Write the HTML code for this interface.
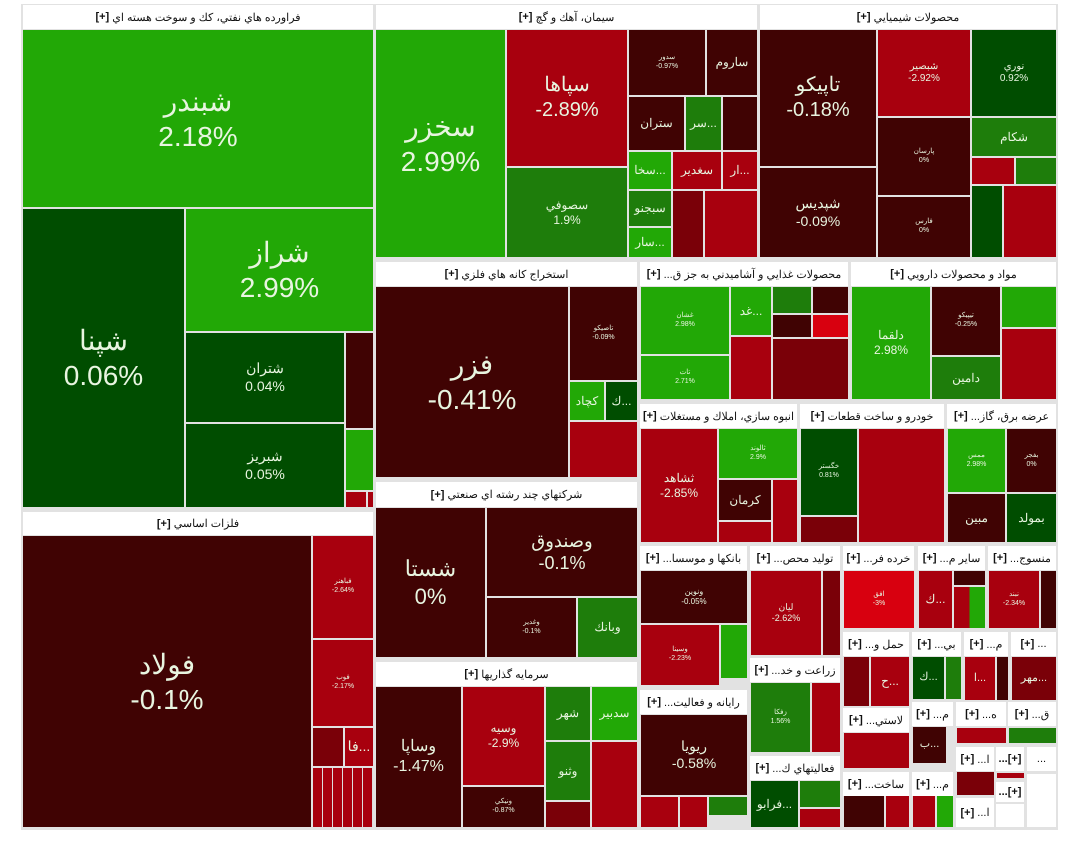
<!DOCTYPE html>
<html><head><meta charset="utf-8">
<style>
body{margin:0;width:1080px;height:859px;background:#fff;position:relative;overflow:hidden;font-family:"Liberation Sans","Noto Sans CJK SC",sans-serif}
.c{position:absolute;box-sizing:border-box;display:flex;flex-direction:column;align-items:center;justify-content:center;color:#e8f5e0;text-align:center;line-height:1.25;overflow:hidden}
.h{position:absolute;background:#fff;color:#111;font-size:11px;display:flex;align-items:center;justify-content:center;direction:rtl;white-space:nowrap;overflow:hidden}
.h b{font-weight:bold}
.g{background:#22a806}.G{background:#1e7d0b}.d{background:#004d00}.m{background:#400303}.r{background:#a8000e}.R{background:#d8000f}.s{background:#7a0008}
.bg{position:absolute;background:#e2e2e2}
.L{font-size:28px}.M{font-size:14px}.S{font-size:7px}
</style></head><body>
<div class="bg" style="left:21px;top:4px;width:1037px;height:826px"></div>

<!-- Sector 1 -->
<div class="h" style="left:23px;top:5px;width:350px;height:24px">فراورده هاي نفتي، كك و سوخت هسته اي <b>&nbsp;[+]</b></div>
<div class="c g L" style="left:23px;top:30px;width:350px;height:177px">شبندر<br>2.18%</div>
<div class="c d L" style="left:23px;top:209px;width:161px;height:298px">شپنا<br>0.06%</div>
<div class="c g L" style="left:186px;top:209px;width:187px;height:122px">شراز<br>2.99%</div>
<div class="c d M" style="left:186px;top:333px;width:158px;height:89px">شتران<br>0.04%</div>
<div class="c d M" style="left:186px;top:424px;width:158px;height:83px">شبریز<br>0.05%</div>
<div class="c m" style="left:346px;top:333px;width:27px;height:95px"></div>
<div class="c g" style="left:346px;top:430px;width:27px;height:60px"></div>
<div class="c r" style="left:346px;top:492px;width:20px;height:15px"></div>
<div class="c r" style="left:368px;top:492px;width:5px;height:15px"></div>

<!-- فلزات -->
<div class="h" style="left:23px;top:512px;width:350px;height:23px">فلزات اساسي <b>&nbsp;[+]</b></div>
<div class="c m L" style="left:23px;top:536px;width:288px;height:291px">فولاد<br>-0.1%</div>
<div class="c r S" style="left:313px;top:536px;width:60px;height:102px">فباهنر<br>-2.64%</div>
<div class="c r S" style="left:313px;top:640px;width:60px;height:86px">فوب<br>-2.17%</div>
<div class="c s" style="left:313px;top:728px;width:30px;height:38px"></div>
<div class="c r M" style="left:345px;top:728px;width:28px;height:38px">فا...</div>
<div class="c r" style="left:313px;top:768px;width:60px;height:59px;background:repeating-linear-gradient(90deg,#a8000e 0 9px,#ddd 9px 10px),#a8000e"></div>

<!-- سیمان -->
<div class="h" style="left:376px;top:5px;width:381px;height:24px">سيمان، آهك و گچ <b>&nbsp;[+]</b></div>
<div class="c g L" style="left:376px;top:30px;width:129px;height:227px">سخزر<br>2.99%</div>
<div class="c r" style="left:507px;top:30px;width:120px;height:136px;font-size:20px">سپاها<br>-2.89%</div>
<div class="c G" style="left:507px;top:168px;width:120px;height:89px;font-size:12px">سصوفي<br>1.9%</div>
<div class="c m S" style="left:629px;top:30px;width:76px;height:65px">سدور<br>-0.97%</div>
<div class="c m" style="left:707px;top:30px;width:50px;height:65px;font-size:12px">ساروم</div>
<div class="c m" style="left:629px;top:97px;width:55px;height:53px;font-size:12px">ستران</div>
<div class="c G" style="left:686px;top:97px;width:35px;height:53px;font-size:12px">سر...</div>
<div class="c m" style="left:723px;top:97px;width:34px;height:53px"></div>
<div class="c g" style="left:629px;top:152px;width:42px;height:37px;font-size:12px">سخا...</div>
<div class="c r" style="left:673px;top:152px;width:48px;height:37px;font-size:12px">سغدير</div>
<div class="c r" style="left:723px;top:152px;width:34px;height:37px;font-size:12px">ار...</div>
<div class="c G" style="left:629px;top:191px;width:42px;height:35px;font-size:12px">سبجنو</div>
<div class="c g" style="left:629px;top:228px;width:42px;height:29px;font-size:12px">سار...</div>
<div class="c s" style="left:673px;top:191px;width:30px;height:66px"></div>
<div class="c r" style="left:705px;top:191px;width:52px;height:66px"></div>

<!-- شیمیایی -->
<div class="h" style="left:760px;top:5px;width:296px;height:24px">محصولات شيميايي <b>&nbsp;[+]</b></div>
<div class="c m" style="left:760px;top:30px;width:116px;height:136px;font-size:20px">تاپيكو<br>-0.18%</div>
<div class="c r" style="left:878px;top:30px;width:92px;height:86px;font-size:10px">شبصير<br>-2.92%</div>
<div class="c d" style="left:972px;top:30px;width:84px;height:86px;font-size:10px">نوري<br>0.92%</div>
<div class="c m M" style="left:760px;top:168px;width:116px;height:89px">شپديس<br>-0.09%</div>
<div class="c m S" style="left:878px;top:118px;width:92px;height:77px">پارسان<br>0%</div>
<div class="c m S" style="left:878px;top:197px;width:92px;height:60px">فارس<br>0%</div>
<div class="c G" style="left:972px;top:118px;width:84px;height:38px;font-size:12px">شكام</div>
<div class="c r" style="left:972px;top:158px;width:42px;height:26px"></div>
<div class="c G" style="left:1016px;top:158px;width:40px;height:26px"></div>
<div class="c d" style="left:972px;top:186px;width:30px;height:71px"></div>
<div class="c r" style="left:1004px;top:186px;width:52px;height:71px"></div>

<!-- استخراج -->
<div class="h" style="left:376px;top:262px;width:261px;height:24px">استخراج كانه هاي فلزي <b>&nbsp;[+]</b></div>
<div class="c m L" style="left:376px;top:287px;width:192px;height:190px">فزر<br>-0.41%</div>
<div class="c m S" style="left:570px;top:287px;width:67px;height:93px">تاصيكو<br>-0.09%</div>
<div class="c g" style="left:570px;top:382px;width:34px;height:38px;font-size:12px">كچاد</div>
<div class="c d" style="left:606px;top:382px;width:31px;height:38px;font-size:12px">ك...</div>
<div class="c r" style="left:570px;top:422px;width:67px;height:55px"></div>

<!-- چند رشته -->
<div class="h" style="left:376px;top:482px;width:261px;height:25px">شركتهاي چند رشته اي صنعتي <b>&nbsp;[+]</b></div>
<div class="c m L" style="left:376px;top:508px;width:109px;height:149px;font-size:22px">شستا<br>0%</div>
<div class="c m" style="left:487px;top:508px;width:150px;height:88px;font-size:18px">وصندوق<br>-0.1%</div>
<div class="c m S" style="left:487px;top:598px;width:89px;height:59px">وغدير<br>-0.1%</div>
<div class="c G" style="left:578px;top:598px;width:59px;height:59px;font-size:12px">وبانك</div>

<!-- سرمایه گذاری -->
<div class="h" style="left:376px;top:662px;width:261px;height:24px">سرمايه گذاريها <b>&nbsp;[+]</b></div>
<div class="c m" style="left:376px;top:687px;width:85px;height:140px;font-size:16px">وساپا<br>-1.47%</div>
<div class="c r" style="left:463px;top:687px;width:81px;height:98px;font-size:12px">وسيه<br>-2.9%</div>
<div class="c m S" style="left:463px;top:787px;width:81px;height:40px">ونيكي<br>-0.87%</div>
<div class="c G" style="left:546px;top:687px;width:44px;height:53px;font-size:12px">شهر</div>
<div class="c g" style="left:592px;top:687px;width:45px;height:53px;font-size:12px">سدبير</div>
<div class="c G" style="left:546px;top:742px;width:44px;height:58px;font-size:12px">وثنو</div>
<div class="c r" style="left:592px;top:742px;width:45px;height:85px"></div>
<div class="c s" style="left:546px;top:802px;width:44px;height:25px"></div>

<!-- غذایی -->
<div class="h" style="left:640px;top:262px;width:208px;height:24px">محصولات غذايي و آشاميدني به جز ق... <b>&nbsp;[+]</b></div>
<div class="c g S" style="left:641px;top:287px;width:88px;height:67px">غشان<br>2.98%</div>
<div class="c g S" style="left:641px;top:356px;width:88px;height:43px">تات<br>2.71%</div>
<div class="c g" style="left:731px;top:287px;width:40px;height:48px;font-size:12px">غد...</div>
<div class="c G" style="left:773px;top:287px;width:38px;height:26px"></div>
<div class="c m" style="left:813px;top:287px;width:35px;height:26px"></div>
<div class="c m" style="left:773px;top:315px;width:38px;height:22px"></div>
<div class="c R" style="left:813px;top:315px;width:35px;height:22px"></div>
<div class="c r" style="left:731px;top:337px;width:40px;height:62px"></div>
<div class="c s" style="left:773px;top:339px;width:75px;height:60px"></div>

<!-- دارویی -->
<div class="h" style="left:851px;top:262px;width:205px;height:24px">مواد و محصولات دارويي <b>&nbsp;[+]</b></div>
<div class="c g" style="left:852px;top:287px;width:78px;height:112px;font-size:12px">دلقما<br>2.98%</div>
<div class="c m S" style="left:932px;top:287px;width:68px;height:68px">تيپيكو<br>-0.25%</div>
<div class="c G" style="left:932px;top:357px;width:68px;height:42px;font-size:12px">دامين</div>
<div class="c g" style="left:1002px;top:287px;width:54px;height:40px"></div>
<div class="c r" style="left:1002px;top:329px;width:54px;height:70px"></div>

<!-- انبوه -->
<div class="h" style="left:640px;top:404px;width:157px;height:24px">انبوه سازي، املاك و مستغلات <b>&nbsp;[+]</b></div>
<div class="c r" style="left:641px;top:429px;width:76px;height:113px;font-size:12px">ثشاهد<br>-2.85%</div>
<div class="c g S" style="left:719px;top:429px;width:78px;height:49px">ثالوند<br>2.9%</div>
<div class="c m" style="left:719px;top:480px;width:52px;height:40px;font-size:12px">كرمان</div>
<div class="c r" style="left:773px;top:480px;width:24px;height:62px"></div>
<div class="c r" style="left:719px;top:522px;width:52px;height:20px"></div>

<!-- خودرو -->
<div class="h" style="left:800px;top:404px;width:144px;height:24px">خودرو و ساخت قطعات <b>&nbsp;[+]</b></div>
<div class="c d S" style="left:801px;top:429px;width:56px;height:86px">خگستر<br>0.81%</div>
<div class="c r" style="left:859px;top:429px;width:85px;height:113px"></div>
<div class="c s" style="left:801px;top:517px;width:56px;height:25px"></div>

<!-- برق -->
<div class="h" style="left:947px;top:404px;width:109px;height:24px">عرضه برق، گاز... <b>&nbsp;[+]</b></div>
<div class="c g S" style="left:948px;top:429px;width:57px;height:63px">ممس<br>2.98%</div>
<div class="c m S" style="left:1007px;top:429px;width:49px;height:63px">بفجر<br>0%</div>
<div class="c m" style="left:948px;top:494px;width:57px;height:48px;font-size:12px">مبين</div>
<div class="c d" style="left:1007px;top:494px;width:49px;height:48px;font-size:12px">بمولد</div>

<!-- بانکها -->
<div class="h" style="left:640px;top:546px;width:107px;height:24px">بانكها و موسسا... <b>&nbsp;[+]</b></div>
<div class="c m" style="left:641px;top:571px;width:106px;height:52px;font-size:8px">ونوين<br>-0.05%</div>
<div class="c r" style="left:641px;top:625px;width:78px;height:60px;font-size:7px">وسينا<br>-2.23%</div>
<div class="c g" style="left:721px;top:625px;width:26px;height:53px"></div>
<!-- رایانه -->
<div class="h" style="left:640px;top:690px;width:107px;height:24px">رايانه و فعاليت... <b>&nbsp;[+]</b></div>
<div class="c m M" style="left:641px;top:715px;width:106px;height:80px">ريويا<br>-0.58%</div>
<div class="c r" style="left:641px;top:797px;width:37px;height:30px"></div>
<div class="c r" style="left:680px;top:797px;width:27px;height:30px"></div>
<div class="c G" style="left:709px;top:797px;width:38px;height:18px"></div>
<!-- تولید محص -->
<div class="h" style="left:750px;top:546px;width:90px;height:24px">تولید محص... <b>&nbsp;[+]</b></div>
<div class="c r" style="left:751px;top:571px;width:70px;height:84px;font-size:9px">ليان<br>-2.62%</div>
<div class="c s" style="left:823px;top:571px;width:17px;height:84px"></div>
<!-- زراعت -->
<div class="h" style="left:750px;top:658px;width:90px;height:24px">زراعت و خد... <b>&nbsp;[+]</b></div>
<div class="c G" style="left:751px;top:683px;width:59px;height:69px;font-size:7px">زفكا<br>1.56%</div>
<div class="c r" style="left:812px;top:683px;width:28px;height:69px"></div>
<!-- فعالیتهای -->
<div class="h" style="left:750px;top:756px;width:90px;height:24px">فعاليتهاي ك... <b>&nbsp;[+]</b></div>
<div class="c d" style="left:751px;top:781px;width:47px;height:46px;font-size:12px">فرابو...</div>
<div class="c G" style="left:800px;top:781px;width:40px;height:26px"></div>
<div class="c r" style="left:800px;top:809px;width:40px;height:18px"></div>

<!-- small sectors -->
<div class="h" style="left:843px;top:546px;width:71px;height:24px">خرده فر... <b>&nbsp;[+]</b></div>
<div class="c R S" style="left:844px;top:571px;width:70px;height:57px">افق<br>-3%</div>
<div class="h" style="left:918px;top:546px;width:67px;height:24px">ساير م... <b>&nbsp;[+]</b></div>
<div class="c r" style="left:919px;top:571px;width:33px;height:57px;font-size:12px">ك...</div>
<div class="c m" style="left:954px;top:571px;width:31px;height:14px"></div>
<div class="c g" style="left:954px;top:587px;width:31px;height:41px;background:linear-gradient(90deg,#a8000e 50%,#22a806 50%)"></div>
<div class="h" style="left:988px;top:546px;width:68px;height:24px">منسوج... <b>&nbsp;[+]</b></div>
<div class="c r S" style="left:989px;top:571px;width:50px;height:57px">نبند<br>-2.34%</div>
<div class="c m" style="left:1041px;top:571px;width:15px;height:57px"></div>

<div class="h" style="left:843px;top:632px;width:66px;height:24px">حمل و... <b>&nbsp;[+]</b></div>
<div class="c s" style="left:844px;top:657px;width:25px;height:49px"></div>
<div class="c r" style="left:871px;top:657px;width:38px;height:49px;font-size:12px">ح...</div>
<div class="h" style="left:912px;top:632px;width:49px;height:24px">بي... <b>&nbsp;[+]</b></div>
<div class="c d" style="left:913px;top:657px;width:31px;height:42px;font-size:11px">ك...</div>
<div class="c G" style="left:946px;top:657px;width:15px;height:42px"></div>
<div class="h" style="left:964px;top:632px;width:44px;height:24px">م... <b>&nbsp;[+]</b></div>
<div class="c r" style="left:965px;top:657px;width:30px;height:43px;font-size:11px">ا...</div>
<div class="c m" style="left:997px;top:657px;width:11px;height:43px"></div>
<div class="h" style="left:1011px;top:632px;width:45px;height:24px">... <b>&nbsp;[+]</b></div>
<div class="c s" style="left:1012px;top:657px;width:44px;height:43px;font-size:11px">مهر...</div>

<div class="h" style="left:843px;top:708px;width:66px;height:24px">لاستي... <b>&nbsp;[+]</b></div>
<div class="c r" style="left:844px;top:733px;width:65px;height:35px"></div>
<div class="h" style="left:912px;top:702px;width:41px;height:24px">م... <b>&nbsp;[+]</b></div>
<div class="c m" style="left:913px;top:727px;width:33px;height:36px;font-size:11px">ب...</div>
<div class="h" style="left:956px;top:702px;width:50px;height:24px">ه... <b>&nbsp;[+]</b></div>
<div class="c r" style="left:957px;top:728px;width:49px;height:15px"></div>
<div class="h" style="left:1008px;top:702px;width:48px;height:24px">ق... <b>&nbsp;[+]</b></div>
<div class="c G" style="left:1009px;top:728px;width:47px;height:15px"></div>
<div class="h" style="left:956px;top:747px;width:38px;height:24px">ا... <b>&nbsp;[+]</b></div>
<div class="c s" style="left:957px;top:772px;width:37px;height:23px"></div>
<div class="h" style="left:996px;top:747px;width:28px;height:24px"><b>[+]...</b></div>
<div class="c r" style="left:997px;top:773px;width:27px;height:5px"></div>
<div class="h" style="left:1027px;top:747px;width:29px;height:24px">...</div>
<div class="h" style="left:843px;top:772px;width:66px;height:24px">ساخت... <b>&nbsp;[+]</b></div>
<div class="c m" style="left:844px;top:796px;width:40px;height:31px"></div>
<div class="c r" style="left:886px;top:796px;width:23px;height:31px"></div>
<div class="h" style="left:912px;top:772px;width:41px;height:24px">م... <b>&nbsp;[+]</b></div>
<div class="c r" style="left:913px;top:796px;width:22px;height:31px"></div>
<div class="c g" style="left:937px;top:796px;width:16px;height:31px"></div>
<div class="h" style="left:956px;top:798px;width:38px;height:29px">ا... <b>&nbsp;[+]</b></div>
<div class="h" style="left:996px;top:782px;width:28px;height:20px"><b>[+]...</b></div>
<div class="h" style="left:1027px;top:774px;width:29px;height:53px"></div>
<div class="h" style="left:996px;top:804px;width:28px;height:23px"></div>
</body></html>
